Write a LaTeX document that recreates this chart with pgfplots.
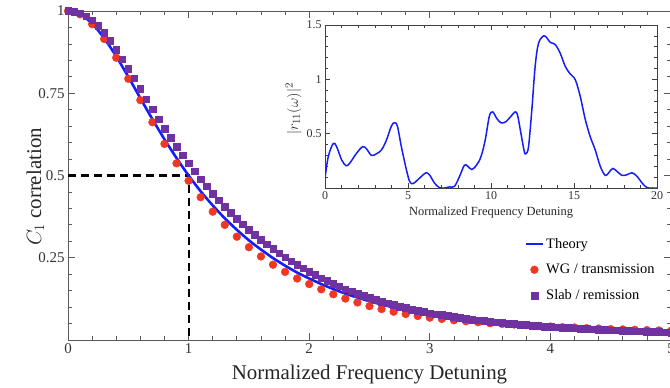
\documentclass[border=0pt]{standalone}
\usepackage{fontspec}
\setmainfont{Liberation Serif}
\usepackage{pgfplots}
\pgfplotsset{compat=1.18}
\usepackage{pgfplotstable}
\definecolor{thblue}{RGB}{20,30,245}
\definecolor{wgred}{RGB}{240,55,35}
\definecolor{slabpur}{RGB}{112,50,160}
\definecolor{axgray}{RGB}{90,90,90}

\pgfplotstableread{
x y
0.0 1.000
0.1 0.990
0.2 0.962
0.3 0.917
0.4 0.862
0.5 0.800
0.6 0.735
0.7 0.671
0.8 0.610
0.9 0.553
1.0 0.500
1.1 0.452
1.2 0.409
1.3 0.370
1.4 0.335
1.5 0.303
1.6 0.275
1.7 0.249
1.8 0.226
1.9 0.205
2.0 0.187
2.1 0.170
2.2 0.155
2.3 0.141
2.4 0.129
2.5 0.118
2.6 0.108
2.7 0.099
2.8 0.091
2.9 0.084
3.0 0.077
3.1 0.072
3.2 0.067
3.3 0.062
3.4 0.058
3.5 0.054
3.6 0.051
3.7 0.048
3.8 0.045
3.9 0.042
4.0 0.040
4.1 0.038
4.2 0.036
4.3 0.034
4.4 0.032
4.5 0.030
4.6 0.029
4.7 0.027
4.8 0.026
4.9 0.025
5.0 0.023
}\theory

\pgfplotstableread{
x y
0.0 1.000
0.1 0.990
0.2 0.960
0.3 0.915
0.4 0.858
0.5 0.794
0.6 0.729
0.7 0.662
0.8 0.596
0.9 0.537
1.0 0.484
1.1 0.434
1.2 0.390
1.3 0.350
1.4 0.314
1.5 0.282
1.6 0.254
1.7 0.229
1.8 0.207
1.9 0.187
2.0 0.170
2.1 0.154
2.2 0.139
2.3 0.126
2.4 0.114
2.5 0.103
2.6 0.094
2.7 0.086
2.8 0.079
2.9 0.073
3.0 0.068
3.1 0.064
3.2 0.060
3.3 0.057
3.4 0.054
3.5 0.051
3.6 0.049
3.7 0.047
3.8 0.045
3.9 0.043
4.0 0.041
4.1 0.039
4.2 0.038
4.3 0.036
4.4 0.035
4.5 0.033
4.6 0.032
4.7 0.031
4.8 0.030
4.9 0.029
5.0 0.028
}\wg

\pgfplotstableread{
x y
0.00 1.000
0.05 0.998
0.10 0.993
0.15 0.984
0.20 0.972
0.25 0.956
0.30 0.934
0.35 0.910
0.40 0.882
0.45 0.853
0.50 0.825
0.55 0.796
0.60 0.764
0.65 0.732
0.70 0.701
0.75 0.671
0.80 0.643
0.85 0.615
0.90 0.588
0.95 0.562
1.00 0.537
1.05 0.513
1.10 0.489
1.15 0.467
1.20 0.445
1.25 0.425
1.30 0.405
1.35 0.387
1.40 0.369
1.45 0.352
1.50 0.335
1.55 0.320
1.60 0.305
1.65 0.291
1.70 0.277
1.75 0.264
1.80 0.252
1.85 0.240
1.90 0.229
1.95 0.218
2.00 0.207
2.05 0.198
2.10 0.188
2.15 0.180
2.20 0.171
2.25 0.163
2.30 0.155
2.35 0.148
2.40 0.141
2.45 0.135
2.50 0.129
2.55 0.123
2.60 0.117
2.65 0.112
2.70 0.107
2.75 0.102
2.80 0.098
2.85 0.093
2.90 0.089
2.95 0.086
3.00 0.082
3.05 0.079
3.10 0.076
3.15 0.073
3.20 0.070
3.25 0.067
3.30 0.065
3.35 0.062
3.40 0.060
3.45 0.058
3.50 0.056
3.55 0.054
3.60 0.052
3.65 0.050
3.70 0.049
3.75 0.047
3.80 0.046
3.85 0.044
3.90 0.043
3.95 0.041
4.00 0.040
4.05 0.039
4.10 0.038
4.15 0.037
4.20 0.036
4.25 0.035
4.30 0.034
4.35 0.033
4.40 0.032
4.45 0.031
4.50 0.030
4.55 0.030
4.60 0.029
4.65 0.028
4.70 0.027
4.75 0.027
4.80 0.026
4.85 0.025
4.90 0.025
4.95 0.024
5.00 0.023
}\slab

\pgfplotstableread{
x y
0.0 0.09
0.2 0.29
0.5 0.41
0.7 0.38
1.0 0.26
1.27 0.205
1.5 0.23
1.9 0.32
2.27 0.38
2.5 0.36
2.8 0.30
3.1 0.315
3.4 0.35
3.7 0.44
4.0 0.57
4.18 0.60
4.36 0.57
4.6 0.38
4.9 0.17
5.1 0.06
5.3 0.04
5.6 0.077
5.9 0.12
6.1 0.14
6.3 0.12
6.6 0.045
6.9 0.002
7.2 0.0
7.5 0.01
7.8 0.015
8.1 0.105
8.4 0.21
8.6 0.20
8.85 0.17
9.15 0.215
9.4 0.29
9.65 0.44
9.9 0.66
10.1 0.70
10.35 0.64
10.6 0.60
10.9 0.61
11.2 0.66
11.45 0.70
11.6 0.67
11.8 0.505
12.0 0.34
12.1 0.315
12.26 0.38
12.46 0.72
12.66 1.12
12.86 1.33
13.17 1.40
13.37 1.38
13.57 1.34
13.87 1.32
14.17 1.24
14.47 1.12
14.77 1.05
15.08 0.995
15.38 0.84
15.68 0.63
15.98 0.47
16.28 0.35
16.58 0.20
16.88 0.116
17.09 0.14
17.33 0.18
17.59 0.153
17.89 0.116
18.19 0.122
18.49 0.14
18.8 0.107
19.1 0.046
19.4 0.003
19.7 0.0
20.0 0.0
}\refl

\begin{document}
\begin{tikzpicture}
\begin{axis}[
  at={(68bp,48bp)}, anchor=south west,
  scale only axis, width=603bp, height=329bp,
  xmin=0, xmax=5, ymin=0, ymax=1,
  xtick={0,1,2,3,4,5},
  ytick={0.25,0.5,0.75,1},
  minor xtick={0.2,0.4,...,4.9},
  minor ytick={0.05,0.1,...,0.96},
  tick align=inside,
  major tick length=7bp, minor tick length=4bp,
  axis line style={draw=axgray, line width=0.8bp},
  every tick/.style={draw=axgray, line width=0.7bp},
  /pgf/number format/assume math mode=true,
  tick label style={font=\fontsize{15}{18}\selectfont, text=black!80},
  xlabel={Normalized Frequency Detuning},
  ylabel={$C_1$ correlation},
  label style={font=\fontsize{21}{25}\selectfont, text=black!85},
  xlabel style={at={(axis description cs:0.5,-0.105)}, anchor=center},
  ylabel style={at={(axis description cs:-0.054,0.465)}, anchor=center, rotate=0},
  legend style={at={(axis cs:3.76,0.322)}, anchor=north west, draw=none, fill=none,
    font=\fontsize{14.5}{17}\selectfont, row sep=10.5bp, cells={anchor=west}},
  legend cell align=left,
  clip=false,
]
\addplot[black, line width=2.1bp, dash pattern=on 8bp off 5bp, forget plot] coordinates {(0,0.5) (1,0.5) (1,0)};
\addplot[thblue, line width=2.6bp, smooth] table {\theory};
\addlegendentry{Theory}
\addplot[only marks, mark=*, mark size=3.9bp, color=wgred, mark options={draw=none, fill=wgred}] table {\wg};
\addlegendentry{WG / transmission}
\addplot[only marks, mark=square*, mark size=3.3bp, color=slabpur, mark options={draw=none, fill=slabpur}] table {\slab};
\addlegendentry{Slab / remission}
\end{axis}

\begin{axis}[
  at={(325bp,200bp)}, anchor=south west,
  scale only axis, width=332bp, height=163bp,
  xmin=0, xmax=20, ymin=0, ymax=1.5,
  xtick={0,5,10,15,20},
  ytick={0.5,1,1.5},
  minor xtick={1,2,3,4,6,7,8,9,11,12,13,14,16,17,18,19},
  minor ytick={0.1,0.2,...,1.45},
  tick align=inside,
  major tick length=5bp, minor tick length=3bp,
  axis background/.style={fill=white},
  axis line style={draw=black!75, line width=0.9bp},
  every tick/.style={draw=black!75, line width=0.6bp},
  /pgf/number format/assume math mode=true,
  tick label style={font=\fontsize{12}{14}\selectfont, text=black!80},
  xlabel={Normalized Frequency Detuning},
  ylabel={$|r_{11}(\omega)|^2$},
  label style={font=\fontsize{12.5}{15}\selectfont, text=black!85},
  xlabel style={at={(axis description cs:0.5,-0.153)}, anchor=center},
  ylabel style={at={(axis description cs:-0.095,0.485)}, anchor=center, font=\fontsize{15}{18}\selectfont},
]
\addplot[thblue, line width=1.5bp, smooth, tension=0.55] table {\refl};
\end{axis}
\pgfresetboundingbox
\path[use as bounding box] (0,0) rectangle (670bp,388bp);
\end{tikzpicture}
\end{document}
